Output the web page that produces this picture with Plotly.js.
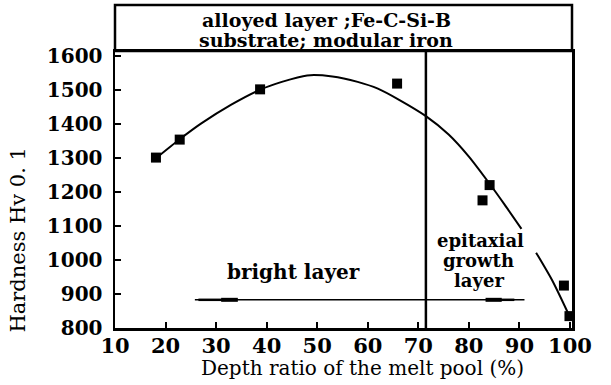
<!DOCTYPE html>
<html>
<head>
<meta charset="utf-8">
<script src="https://cdn.plot.ly/plotly-3.0.1.min.js"></script>
<style>html,body{margin:0;padding:0;background:#fff;}#chart{width:611px;height:385px;}</style>
</head>
<body>
<div id="chart"></div>
<script>
// Measured points (depth ratio %, hardness Hv0.1)
var depth = [18.1, 22.8, 38.7, 65.8, 82.7, 84.1, 98.8, 99.9];
var hardness = [1302, 1355, 1503, 1520, 1176, 1221, 925, 835];

// Fitted curve (null = gap in the drawn line)
var fitDepth = [18.1, 22.8, 27, 33, 38.7, 43, 48, 53, 58, 62, 66.2, 71.5, 76, 80, 84.1, 87, 90.4, null, 93.3, 96.5, 99.9];
var fitHard = [1300, 1356, 1402, 1458, 1502, 1525, 1544, 1541, 1525, 1505, 1472, 1424, 1370, 1305, 1225, 1165, 1092, null, 1022, 940, 835];

var xTicks = [10, 20, 30, 40, 50, 60, 70, 80, 90, 100];
var yTicks = [800, 900, 1000, 1100, 1200, 1300, 1400, 1500, 1600];

var boundary = 71.5;   // bright layer / epitaxial growth layer boundary
var arrowLevel = 883;

var serif = "DejaVu Serif, serif";

var traces = [
  {x: fitDepth, y: fitHard, mode: "lines", line: {color: "#000", width: 2, shape: "spline", smoothing: 0.7}, connectgaps: false, hoverinfo: "skip", showlegend: false},
  {x: depth, y: hardness, mode: "markers", marker: {symbol: "square", size: 10, color: "#000"}, showlegend: false}
];

var shapes = [
  {type: "rect", xref: "paper", yref: "paper", x0: 0, x1: 1, y0: 1, y1: 1.166, line: {color: "#000", width: 2.5}},
  {type: "line", xref: "x", yref: "paper", x0: boundary, x1: boundary, y0: 0, y1: 1, line: {color: "#000", width: 2.5}},
  {type: "line", xref: "x", yref: "y", x0: 25.8, x1: 91, y0: arrowLevel, y1: arrowLevel, line: {color: "#000", width: 1.5}},
  {type: "line", xref: "x", yref: "y", x0: 26.5, x1: 32, y0: arrowLevel, y1: arrowLevel, line: {color: "#000", width: 2.5}},
  {type: "line", xref: "x", yref: "y", x0: 31, x1: 34.3, y0: arrowLevel, y1: arrowLevel, line: {color: "#000", width: 4}},
  {type: "line", xref: "x", yref: "y", x0: 83.3, x1: 86.5, y0: arrowLevel, y1: arrowLevel, line: {color: "#000", width: 4}},
  {type: "line", xref: "x", yref: "y", x0: 86, x1: 89, y0: arrowLevel, y1: arrowLevel, line: {color: "#000", width: 2.5}}
];

function txt(xref, yref, x, y, text, size, bold, extra) {
  var a = {xref: xref, yref: yref, x: x, y: y, text: text, showarrow: false,
    font: {family: serif, size: size, color: "#000", weight: bold ? "bold" : "normal"},
    xanchor: "center", yanchor: "middle"};
  for (var k in extra) a[k] = extra[k];
  return a;
}

var annotations = [
  txt("paper", "paper", 0.462, 1.113, "alloyed layer ;Fe-C-Si-B", 19, true),
  txt("paper", "paper", 0.462, 1.04, "substrate; modular iron", 19, true),
  txt("x", "y", 45.3, 965, "bright layer", 20, true),
  txt("x", "y", 82.3, 1059, "epitaxial", 18, true),
  txt("x", "y", 82.0, 1000, "growth", 18, true),
  txt("x", "y", 82.0, 941, "layer", 18, true),
  txt("paper", "paper", 0.542, -0.145, "Depth ratio of the melt pool (%)", 20, false),
  txt("paper", "paper", -0.213, 0.318, "Hardness Hv 0. 1", 21, false, {textangle: -90})
];

var layout = {
  width: 611, height: 385,
  margin: {l: 115, r: 39, t: 51, b: 57},
  paper_bgcolor: "#fff", plot_bgcolor: "#fff",
  showlegend: false,
  xaxis: {
    range: [10, 100.4], tickvals: xTicks, ticktext: xTicks.map(String),
    ticks: "inside", ticklen: 6, tickwidth: 2, tickcolor: "#000",
    showline: true, linecolor: "#000", linewidth: 2.5, mirror: true,
    showgrid: false, zeroline: false,
    tickfont: {family: serif, size: 21, color: "#000", weight: "bold"},
    ticklabelstandoff: -3
  },
  yaxis: {
    range: [800, 1616], tickvals: yTicks, ticktext: yTicks.map(String),
    ticks: "inside", ticklen: 6, tickwidth: 2, tickcolor: "#000",
    showline: true, linecolor: "#000", linewidth: 2.5, mirror: true,
    showgrid: false, zeroline: false,
    tickfont: {family: serif, size: 20, color: "#000", weight: "bold"},
    ticklabelstandoff: 6
  },
  shapes: shapes,
  annotations: annotations
};

Plotly.newPlot("chart", traces, layout, {staticPlot: true, displayModeBar: false});
</script>
</body>
</html>
